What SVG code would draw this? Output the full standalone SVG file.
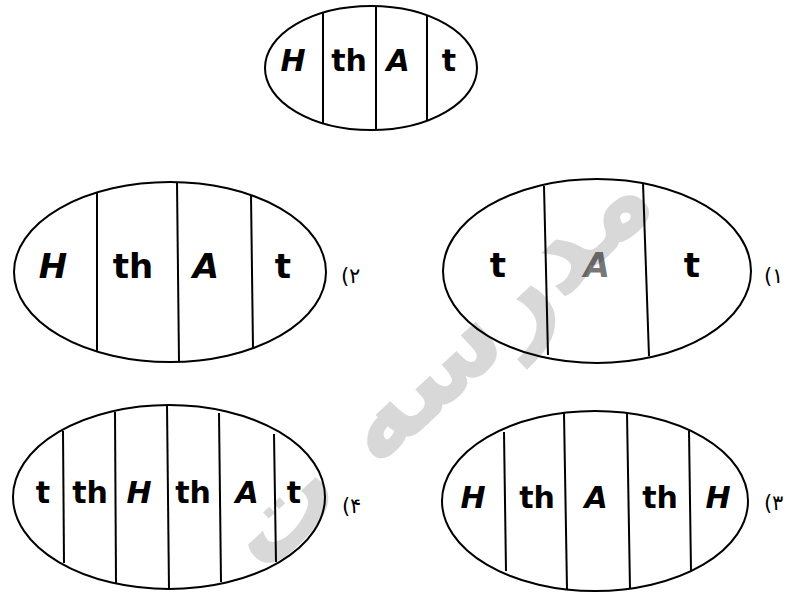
<svg xmlns="http://www.w3.org/2000/svg" width="792" height="593" viewBox="0 0 792 593">
<style>
.bg{fill:#fff}
.ell{fill:none;stroke:#000;stroke-width:2}
.div{stroke:#000;stroke-width:2;fill:none}
.lt{font-family:"DejaVu Sans",sans-serif;font-weight:bold;fill:#000;text-anchor:middle}
.it{font-style:italic}
.s30{font-size:30px}
.s34{font-size:34px}
.lab{font-family:"DejaVu Sans",sans-serif;font-size:21px;fill:#000}
.wm{font-family:"DejaVu Sans",sans-serif;font-weight:bold;font-size:115px;fill:#d8d8d8}
</style>
<rect class="bg" x="0" y="0" width="792" height="593"/>
<g id="watermark">
<text class="wm" transform="translate(462,392) rotate(-43)" text-anchor="middle" direction="rtl">مدرسه ت</text>
</g>
<g id="connectors"></g>
<g id="top">
<ellipse class="ell" cx="371" cy="68" rx="106" ry="62"/>
<line class="div" x1="323" y1="13" x2="323" y2="123"/>
<line class="div" x1="376" y1="6" x2="376" y2="130"/>
<line class="div" x1="427" y1="16" x2="427" y2="120"/>
<text class="lt s30 it" x="293" y="71">H</text>
<text class="lt s30" x="349" y="71">th</text>
<text class="lt s30 it" x="398" y="71">A</text>
<text class="lt s30" x="449" y="71">t</text>
</g>
<g id="option2">
<ellipse class="ell" cx="170" cy="272" rx="156" ry="90"/>
<line class="div" x1="97" y1="193" x2="97" y2="351"/>
<line class="div" x1="177" y1="182" x2="179" y2="362"/>
<line class="div" x1="251" y1="195" x2="253" y2="348"/>
<text class="lt s34 it" x="53" y="278">H</text>
<text class="lt s34" x="133" y="278">th</text>
<text class="lt s34 it" x="206" y="278">A</text>
<text class="lt s34" x="283" y="278">t</text>
<text class="lab" x="341" y="283">(</text><text class="lab" x="349" y="283">۲</text>
</g>
<g id="option1">
<ellipse class="ell" cx="597" cy="271" rx="154" ry="92"/>
<line class="div" x1="544" y1="186" x2="548" y2="355"/>
<line class="div" x1="643" y1="183" x2="649" y2="356"/>
<text class="lt s34" x="498" y="277">t</text>
<text class="lt s34 it" x="597" y="277" fill-opacity="0.55">A</text>
<text class="lt s34" x="692" y="277">t</text>
<text class="lab" x="764" y="283">(</text><text class="lab" x="772" y="283">۱</text>
</g>
<g id="option4">
<ellipse class="ell" cx="169" cy="497" rx="156" ry="92"/>
<line class="div" x1="63" y1="431" x2="64" y2="563"/>
<line class="div" x1="115" y1="412" x2="116" y2="583"/>
<line class="div" x1="167" y1="405" x2="169" y2="589"/>
<line class="div" x1="219" y1="413" x2="221" y2="582"/>
<line class="div" x1="274" y1="434" x2="276" y2="562"/>
<text class="lt s30" x="43" y="503">t</text>
<text class="lt s30" x="90" y="503">th</text>
<text class="lt s30 it" x="139" y="503">H</text>
<text class="lt s30" x="193" y="503">th</text>
<text class="lt s30 it" x="247" y="503">A</text>
<text class="lt s30" x="294" y="503">t</text>
<text class="lab" x="342" y="513">(</text><text class="lab" x="350" y="513">۴</text>
</g>
<g id="option3">
<ellipse class="ell" cx="595" cy="501" rx="153" ry="90"/>
<line class="div" x1="504" y1="432" x2="506" y2="571"/>
<line class="div" x1="564" y1="413" x2="567" y2="589"/>
<line class="div" x1="627" y1="413" x2="630" y2="589"/>
<line class="div" x1="689" y1="431" x2="691" y2="571"/>
<text class="lt s30 it" x="473" y="508">H</text>
<text class="lt s30" x="537" y="508">th</text>
<text class="lt s30 it" x="596" y="508">A</text>
<text class="lt s30" x="660" y="508">th</text>
<text class="lt s30 it" x="718" y="508">H</text>
<text class="lab" x="764" y="510">(</text><text class="lab" x="772" y="510">۳</text>
</g>
</svg>
